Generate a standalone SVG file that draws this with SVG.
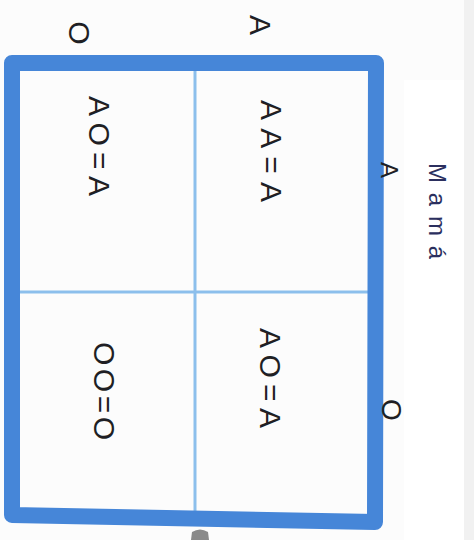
<svg xmlns="http://www.w3.org/2000/svg" width="474" height="540" viewBox="0 0 474 540">
  <style>
    .ink { font-family: "Liberation Sans", "DejaVu Sans", sans-serif; fill: #1f1f24; }
    .cell { font-size: 30px; }
    .lbl { font-size: 30px; }
    .mama { font-family: "Liberation Sans", "DejaVu Sans", sans-serif; font-size: 24px; fill: #2b2f5e; }
    .frame { fill: none; stroke: #4686d8; stroke-width: 16; stroke-linejoin: round; stroke-linecap: round; }
    .div { stroke: #8cbfec; stroke-width: 3; }
  </style>
  <rect x="0" y="0" width="474" height="540" fill="#fcfcfc"/>
  <rect x="404" y="80" width="60" height="460" fill="#ffffff"/>
  <rect x="464" y="0" width="10" height="540" fill="#f1f1f1"/>

  <g id="grid">
    <line class="div" x1="195" y1="70" x2="195" y2="512"/>
    <line class="div" x1="19" y1="292" x2="369" y2="292"/>
    <path class="frame" d="M12,63 L376,63 L375,522 L12,515 Z"/>
  </g>

  <g id="connectors"/>

  <g id="label-top-O">
    <text class="ink lbl" transform="translate(80,33) rotate(90)" x="0" y="11" text-anchor="middle">O</text>
  </g>
  <g id="label-top-A">
    <text class="ink lbl" transform="translate(261,25) rotate(90)" x="0" y="11" text-anchor="middle">A</text>
  </g>
  <g id="label-right-A">
    <text class="ink" font-size="24" transform="translate(390,170) rotate(90)" x="0" y="9" text-anchor="middle">A</text>
  </g>
  <g id="label-right-O">
    <text class="ink" font-size="28" transform="translate(392,410) rotate(90)" x="0" y="10" text-anchor="middle">O</text>
  </g>
  <g id="label-mama">
    <text class="mama" transform="translate(437,211) rotate(90)" x="0" y="8" text-anchor="middle" textLength="96" lengthAdjust="spacing">Mamá</text>
  </g>

  <g id="cell-AO-1">
    <text class="ink cell" transform="translate(100,146) rotate(90)" x="0" y="11" text-anchor="middle" textLength="100" lengthAdjust="spacing">AO=A</text>
  </g>
  <g id="cell-AA">
    <text class="ink cell" transform="translate(272,151) rotate(90)" x="0" y="11" text-anchor="middle" textLength="102" lengthAdjust="spacing">AA=A</text>
  </g>
  <g id="cell-OO">
    <text class="ink cell" transform="translate(105,391) rotate(90)" x="0" y="11" text-anchor="middle" textLength="98" lengthAdjust="spacing">OO=O</text>
  </g>
  <g id="cell-AO-2">
    <text class="ink cell" transform="translate(271,378) rotate(90)" x="0" y="11" text-anchor="middle" textLength="100" lengthAdjust="spacing">AO=A</text>
  </g>

  <path d="M191,540 L192,532 Q200,527 208,532 L209,540 Z" fill="#8a8a8a"/>
</svg>
